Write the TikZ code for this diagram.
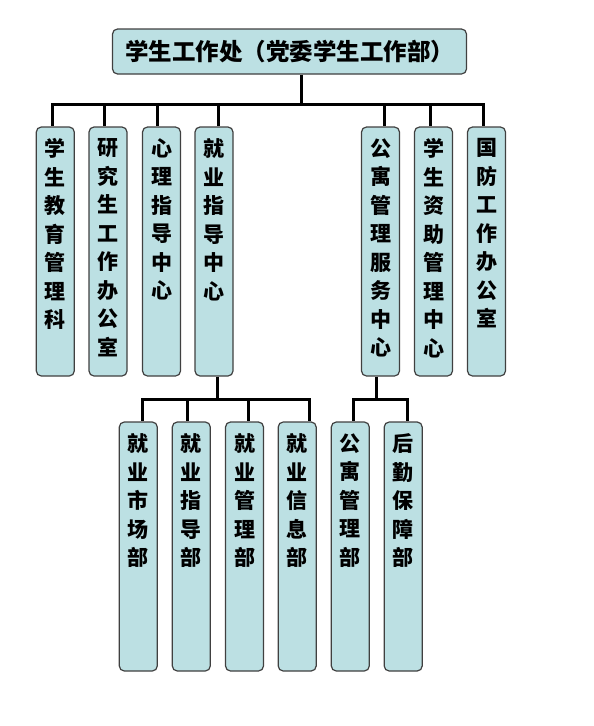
\documentclass[tikz,border=0pt]{standalone}
\usepackage{fontspec}
\newfontfamily\cjk{Noto Sans CJK SC}
\usetikzlibrary{positioning}

\definecolor{boxfill}{HTML}{BCE0E3}
\definecolor{boxline}{HTML}{404040}

\tikzset{
  unit/.style={draw=boxline, line width=1.2pt, fill=boxfill, rounded corners=5pt,
    minimum width=38pt, minimum height=249pt, inner sep=0pt},
  vtext/.style={align=center, inner sep=0pt, font=\cjk\bfseries\fontsize{21}{28.5}\selectfont},
  link/.style={line width=3pt},
}

\begin{document}
\begin{tikzpicture}[x=1pt,y=-1pt]
  \useasboundingbox (0,0) rectangle (594,726);

  % top
  \node[unit, minimum width=354pt, minimum height=45pt,
    font=\cjk\bfseries\fontsize{23.5}{28}\selectfont] (head) at (289.5,51.5) {学生工作处（党委学生工作部）};

  % second row
  \node[unit] (a1) at (55.3,251.5) {};
  \node[unit] (a2) at (108,251.5) {};
  \node[unit] (a3) at (161.5,251.5) {};
  \node[unit] (a4) at (214,251.5) {};
  \node[unit] (a5) at (380.5,251.5) {};
  \node[unit] (a6) at (433.5,251.5) {};
  \node[unit] (a7) at (486.5,251.5) {};

  \node[vtext, below=12pt of a1.north] (ta1) {学\\生\\教\\育\\管\\理\\科};
  \node[vtext, below=12pt of a2.north] (ta2) {研\\究\\生\\工\\作\\办\\公\\室};
  \node[vtext, below=12pt of a3.north] (ta3) {心\\理\\指\\导\\中\\心};
  \node[vtext, below=12pt of a4.north] (ta4) {就\\业\\指\\导\\中\\心};
  \node[vtext, below=12pt of a5.north] (ta5) {公\\寓\\管\\理\\服\\务\\中\\心};
  \node[vtext, below=12pt of a6.north] (ta6) {学\\生\\资\\助\\管\\理\\中\\心};
  \node[vtext, below=12pt of a7.north] (ta7) {国\\防\\工\\作\\办\\公\\室};

  % third row
  \node[unit] (b1) at (138.3,546.5) {};
  \node[unit] (b2) at (191.3,546.5) {};
  \node[unit] (b3) at (244.5,546.5) {};
  \node[unit] (b4) at (297.2,546.5) {};
  \node[unit] (c1) at (350.3,546.5) {};
  \node[unit] (c2) at (403.2,546.5) {};

  \node[vtext, below=12pt of b1.north] (tb1) {就\\业\\市\\场\\部};
  \node[vtext, below=12pt of b2.north] (tb2) {就\\业\\指\\导\\部};
  \node[vtext, below=12pt of b3.north] (tb3) {就\\业\\管\\理\\部};
  \node[vtext, below=12pt of b4.north] (tb4) {就\\业\\信\\息\\部};
  \node[vtext, below=12pt of c1.north] (tc1) {公\\寓\\管\\理\\部};
  \node[vtext, below=12pt of c2.north] (tc2) {后\\勤\\保\\障\\部};

  % lines
  \coordinate (hub1) at (301,104);
  \draw[link] (head.south -| hub1) -- (hub1);
  \draw[link] (hub1) -| ([xshift=-3pt]a1.north);
  \draw[link] (hub1) -| ([xshift=-4pt]a2.north);
  \draw[link] (hub1) -| ([xshift=-4.5pt]a3.north);
  \draw[link] (hub1) -| ([xshift=4pt]a4.north);
  \draw[link] (hub1) -| ([xshift=3.5pt]a5.north);
  \draw[link] (hub1) -| ([xshift=-3.5pt]a6.north);
  \draw[link] (hub1) -| ([xshift=-3.5pt]a7.north);

  \coordinate (hub2) at (217,399);
  \draw[link] (a4.south -| hub2) -- (hub2);
  \draw[link] (hub2) -| ([xshift=3.7pt]b1.north);
  \draw[link] (hub2) -| ([xshift=-3.6pt]b2.north);
  \draw[link] (hub2) -| ([xshift=3.8pt]b3.north);
  \draw[link] (hub2) -| ([xshift=11.8pt]b4.north);

  \coordinate (hub3) at (376,399);
  \draw[link] (a5.south -| hub3) -- (hub3);
  \draw[link] (hub3) -| ([xshift=2.7pt]c1.north);
  \draw[link] (hub3) -| ([xshift=3.8pt]c2.north);
\end{tikzpicture}
\end{document}
